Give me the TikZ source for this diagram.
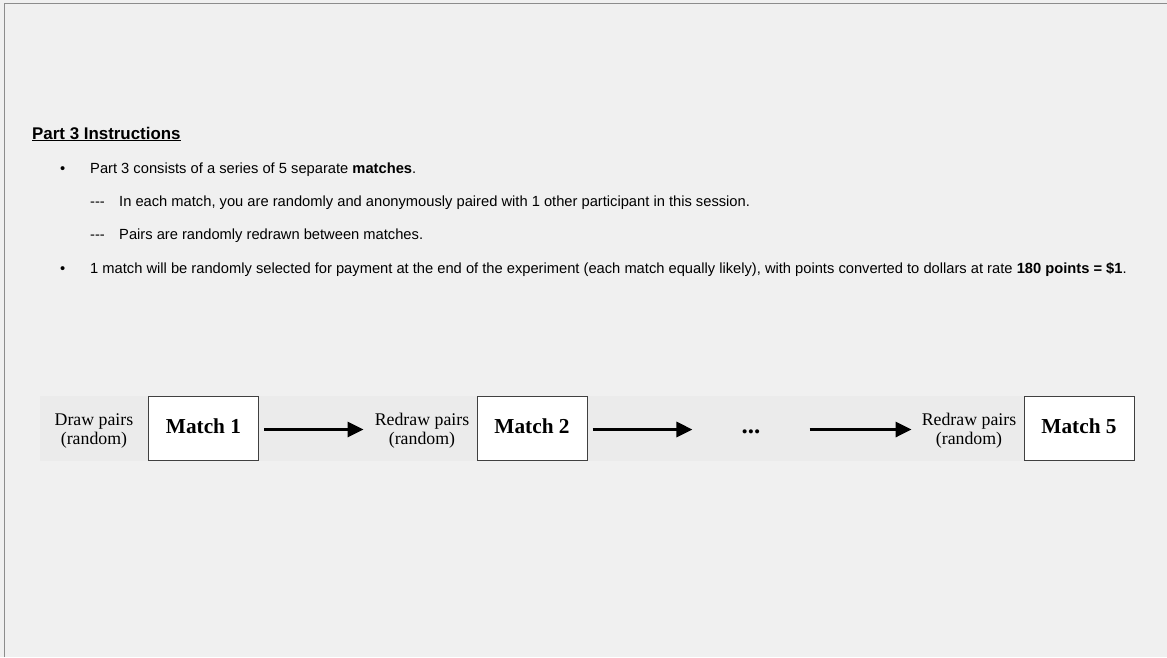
\documentclass[tikz,border=0pt]{standalone}
\usepackage{fontspec}
\setmainfont{Liberation Serif}
\newfontfamily\arialf{Liberation Sans}
\usetikzlibrary{arrows.meta}
\definecolor{bgc}{HTML}{F0F0F0}
\definecolor{bandc}{HTML}{EBEBEB}
\definecolor{framec}{HTML}{8C8C8C}
\definecolor{boxc}{HTML}{404040}
\tikzset{
  body/.style={anchor=base west, inner sep=0pt, font=\arialf\fontsize{14.7}{17}\selectfont},
  title/.style={anchor=base west, inner sep=0pt, font=\arialf\bfseries\fontsize{16.9}{20}\selectfont},
  matchbox/.style={draw=boxc, line width=1pt, fill=white, minimum width=110pt, minimum height=64pt, inner sep=0pt, font=\bfseries\fontsize{21.3}{24}\selectfont},
  lbl/.style={align=center, inner sep=0pt, font=\fontsize{17.8}{19}\selectfont},
  arr/.style={line width=3pt, -{Triangle[length=16pt,width=15pt]}},
}
\begin{document}
\begin{tikzpicture}[x=1pt,y=-1pt]
\useasboundingbox (0,0) rectangle (1167,657);
\fill[bgc] (0,0) rectangle (1167,657);
\draw[framec, line width=1.5pt] (4.5,657) -- (4.5,3.5) -- (1167,3.5);
% text
\node[title] (t0) at (32,139) {\underline{Part 3 Instructions}};
\node[body] (b1) at (60,173) {•};
\node[body] (t1) at (90,173) {Part 3 consists of a series of 5 separate \textbf{matches}.};
\node[body] (d2) at (90,206) {---};
\node[body] (t2) at (119,206) {In each match, you are randomly and anonymously paired with 1 other participant in this session.};
\node[body] (d3) at (90,239) {---};
\node[body] (t3) at (119,239) {Pairs are randomly redrawn between matches.};
\node[body] (b4) at (60,273) {•};
\node[body] (t4) at (90,273) {1 match will be randomly selected for payment at the end of the experiment (each match equally likely), with points converted to dollars at rate \textbf{180 points = \$1}.};
% diagram
\fill[bandc] (40,396) rectangle (1134,461);
\node[matchbox] (m1) at (203.5,428) {\raisebox{3pt}{Match 1}};
\node[matchbox] (m2) at (532,428) {\raisebox{3pt}{Match 2}};
\node[matchbox] (m5) at (1079,428) {\raisebox{3pt}{Match 5}};
\node[lbl] (l1) at (94,431) {Draw pairs\\(random)};
\node[lbl] (l2) at (422,431) {Redraw pairs\\(random)};
\node[lbl] (l5) at (969,431) {Redraw pairs\\(random)};
\node[anchor=base, inner sep=0pt, font=\bfseries\fontsize{25}{26}\selectfont] (dots) at (751,433) {...};
\coordinate (ay) at (0,429.5);
\draw[arr, shorten <=5pt, shorten >=11pt] (m1.east |- ay) -- (l2.west |- ay);
\draw[arr, shorten <=5pt, shorten >=49pt] (m2.east |- ay) -- (dots.west |- ay);
\draw[arr, shorten <=49pt, shorten >=10pt] (dots.east |- ay) -- (l5.west |- ay);
\end{tikzpicture}
\end{document}
